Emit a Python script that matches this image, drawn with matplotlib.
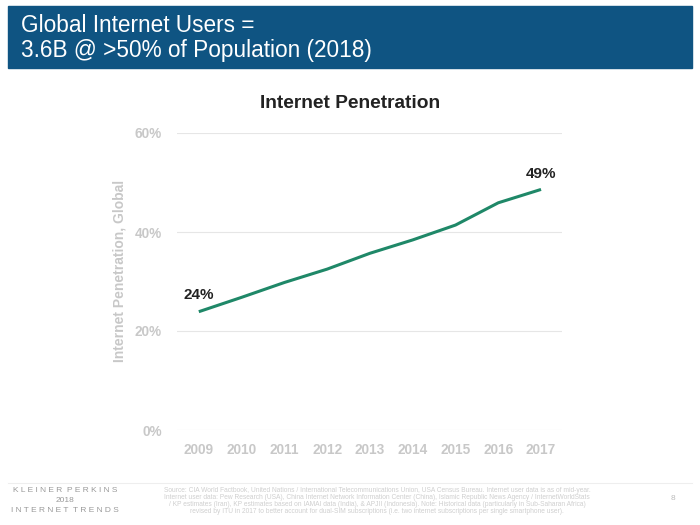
import matplotlib.pyplot as plt
from matplotlib.patches import Rectangle
from matplotlib.lines import Line2D

plt.rcParams['font.family'] = ['Liberation Sans', 'DejaVu Sans']

# Datos
anios = [2009, 2010, 2011, 2012, 2013, 2014, 2015, 2016, 2017]
penetracion = [23.9, 26.8, 29.8, 32.5, 35.7, 38.4, 41.4, 45.9, 48.6]
etiquetas_y = ['0%', '20%', '40%', '60%']
valores_y = [0, 20, 40, 60]

titulo = 'Global Internet Users =\n3.6B @ >50% of Population (2018)'
fuente = ('Source: CIA World Factbook, United Nations / International Telecommunications Union, USA Census Bureau. Internet user data is as of mid-year.\n'
          'Internet user data: Pew Research (USA), China Internet Network Information Center (China), Islamic Republic News Agency / InternetWorldStats\n'
          '/ KP estimates (Iran), KP estimates based on IAMAI data (India), & APJII (Indonesia). Note: Historical data (particularly in Sub-Saharan Africa)\n'
          'revised by ITU in 2017 to better account for dual-SIM subscriptions (i.e. two internet subscriptions per single smartphone user).')

verde = '#1f8868'
gris = '#c8c8c8'

fig = plt.figure(figsize=(7, 5.25), dpi=100)

# Banda del encabezado
fig.patches.append(Rectangle((8 / 700, 1 - 68 / 525), 684 / 700, 62 / 525,
                             transform=fig.transFigure, color='#0f5482', zorder=0))
fig.text(21 / 700, 1 - 38 / 525, titulo, color='white', fontsize=16.3,
         va='center', ha='left', linespacing=1.12)

# Grafico principal
ax = fig.add_axes([177 / 700, 95 / 525, 385 / 700, 297 / 525])
ax.plot(anios, penetracion, color=verde, lw=2.2, solid_capstyle='butt')
ax.set_xlim(2008.49, 2017.49)
ax.set_ylim(0, 60)
ax.set_xticks(anios)
ax.set_xticklabels([str(a) for a in anios], color=gris, fontsize=9.8, fontweight='bold')
ax.set_yticks(valores_y)
ax.set_yticklabels(etiquetas_y, color=gris, fontsize=9.8, fontweight='bold')
ax.tick_params(length=0, pad=9)
ax.tick_params(axis='y', pad=11)
ax.grid(axis='y', color='#e6e6e6', lw=0.8)
for s in ax.spines.values():
    s.set_visible(False)

fig.text(350 / 700, 1 - 103 / 525, 'Internet Penetration', fontsize=13.8,
         fontweight='bold', color='#222222', ha='center', va='center')

ax.annotate('24%', (anios[0], penetracion[0]), xytext=(0, 7), textcoords='offset points',
            ha='center', va='bottom', fontsize=11, fontweight='bold', color='#222222')
ax.annotate('49%', (anios[-1], penetracion[-1]), xytext=(0, 6), textcoords='offset points',
            ha='center', va='bottom', fontsize=11, fontweight='bold', color='#222222')

fig.text(120 / 700, 1 - 271 / 525, 'Internet Penetration, Global', rotation=90,
         color=gris, fontsize=10, fontweight='bold', ha='center', va='center')

# Pie de pagina
fig.add_artist(Line2D([8 / 700, 692 / 700], [1 - 483 / 525] * 2, color='#eeeeee', lw=0.8))
fig.text(65 / 700, 1 - 501 / 525, 'K L E I N E R  P E R K I N S\n2018\nI N T E R N E T  T R E N D S',
         color='#999999', fontsize=6, ha='center', va='center', linespacing=1.6)
fig.text(377 / 700, 1 - 501 / 525, fuente, color='#cfcfcf', fontsize=4.8,
         ha='center', va='center', linespacing=1.05)
fig.text(673 / 700, 1 - 498 / 525, '8', color='#bbbbbb', fontsize=6, ha='center', va='center')

fig.savefig('out.png', dpi=100)
